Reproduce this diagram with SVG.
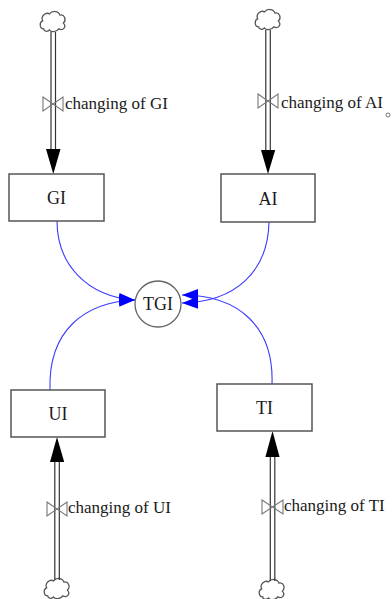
<svg xmlns="http://www.w3.org/2000/svg" width="392" height="599" viewBox="0 0 392 599">
  <style>
    text { font-family: "Liberation Serif", "Times New Roman", serif; font-size: 17px; fill: #1a1a1a; }
    .lbl { text-anchor: middle; font-size: 18px; }
    .stock { fill: #fff; stroke: #555; stroke-width: 1.5; }
    .aux { fill: #fff; stroke: #666; stroke-width: 1.3; }
    .pipe { stroke: #333; stroke-width: 1.2; fill: none; }
    .valve { fill: none; stroke: #777; stroke-width: 1.1; }
    .cloud { fill: #fff; stroke: #555; stroke-width: 1.1; }
    .link { fill: none; stroke: #3a3aff; stroke-width: 1.1; }
    .head { fill: #000; }
  </style>
  <defs>
    <marker id="blueArrow" viewBox="0 0 16 12" refX="16" refY="6" markerWidth="16" markerHeight="12" markerUnits="userSpaceOnUse" orient="auto">
      <path d="M0,0 L16,6 L0,12 Z" fill="#0000ff"/>
    </marker>
    <path id="cloudShape" class="cloud" transform="scale(1.15)" d="M-8,6 C-12,6 -12,0 -9,-1 C-11,-5 -6,-9 -3,-7 C-1,-10 5,-10 6,-6 C10,-7 12,-2 9,1 C12,4 9,8 5,6 C3,9 -2,9 -3,7 C-5,9 -8,8 -8,6 Z"/>
  </defs>

  <!-- information links into TGI -->
  <g id="connectors">
    <path class="link" d="M57,221 C57,265 88,297 135,300" marker-end="url(#blueArrow)"/>
    <path class="link" d="M50,390 C48,330 85,302 135,300" marker-end="url(#blueArrow)"/>
    <path class="link" d="M269,222 C268,272 235,302 182,303" marker-end="url(#blueArrow)"/>
    <path class="link" d="M272,384 C274,328 240,295 182,295" marker-end="url(#blueArrow)"/>
  </g>

  <!-- inflow: changing of GI -->
  <g id="flow-gi">
    <use href="#cloudShape" x="53" y="22"/>
    <line class="pipe" x1="51" y1="32" x2="51" y2="150"/>
    <line class="pipe" x1="55.5" y1="32" x2="55.5" y2="150"/>
    <path class="head" d="M46,149 L60.5,149 L53.3,174 Z"/>
    <path class="valve" d="M43,97 L63,111 L63,97 L43,111 Z"/>
    <text x="65" y="109">changing of GI</text>
  </g>

  <!-- inflow: changing of AI -->
  <g id="flow-ai">
    <use href="#cloudShape" x="268" y="20"/>
    <line class="pipe" x1="265.8" y1="30" x2="265.8" y2="151"/>
    <line class="pipe" x1="270.3" y1="30" x2="270.3" y2="151"/>
    <path class="head" d="M261,150 L275.2,150 L268,174 Z"/>
    <path class="valve" d="M258,94 L278,108 L278,94 L258,108 Z"/>
    <text x="281" y="108">changing of AI</text>
    <circle cx="388" cy="115" r="2" fill="#fff" stroke="#666" stroke-width="0.9"/>
  </g>

  <!-- inflow: changing of UI -->
  <g id="flow-ui">
    <use href="#cloudShape" x="57" y="589"/>
    <line class="pipe" x1="54.8" y1="461" x2="54.8" y2="580"/>
    <line class="pipe" x1="59.3" y1="461" x2="59.3" y2="580"/>
    <path class="head" d="M50,462 L64.2,462 L57,437 Z"/>
    <path class="valve" d="M47,502 L67,516 L67,502 L47,516 Z"/>
    <text x="68" y="513">changing of UI</text>
  </g>

  <!-- inflow: changing of TI -->
  <g id="flow-ti">
    <use href="#cloudShape" x="272" y="590"/>
    <line class="pipe" x1="270.3" y1="456" x2="270.3" y2="581"/>
    <line class="pipe" x1="274.8" y1="456" x2="274.8" y2="581"/>
    <path class="head" d="M265.4,457 L279.6,457 L272.5,431 Z"/>
    <path class="valve" d="M262,500 L283,514 L283,500 L262,514 Z"/>
    <text x="284" y="511">changing of TI</text>
  </g>

  <!-- stocks -->
  <g id="stock-gi">
    <rect class="stock" x="9" y="174" width="95" height="47"/>
    <text class="lbl" x="56.5" y="204">GI</text>
  </g>
  <g id="stock-ai">
    <rect class="stock" x="221" y="174" width="94" height="48"/>
    <text class="lbl" x="268" y="204.5">AI</text>
  </g>
  <g id="stock-ui">
    <rect class="stock" x="11" y="390" width="94" height="47"/>
    <text class="lbl" x="58" y="420">UI</text>
  </g>
  <g id="stock-ti">
    <rect class="stock" x="217" y="384" width="95" height="47"/>
    <text class="lbl" x="264.5" y="414">TI</text>
  </g>

  <!-- auxiliary -->
  <g id="aux-tgi">
    <circle class="aux" cx="158" cy="304" r="23"/>
    <text class="lbl" x="158" y="310">TGI</text>
  </g>
</svg>
